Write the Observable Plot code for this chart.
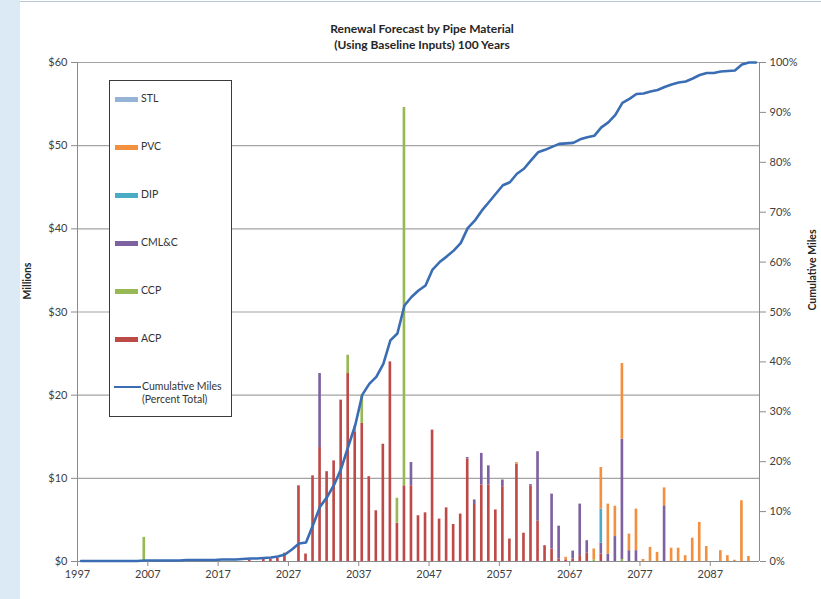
<!DOCTYPE html>
<html>
<head>
<meta charset="utf-8">
<script src="https://cdn.jsdelivr.net/npm/d3@7"></script>
<script src="https://cdn.jsdelivr.net/npm/@observablehq/plot@0.6"></script>
<style>
  html, body { margin: 0; padding: 0; background: #fff; }
  #wrap { position: relative; width: 821px; height: 599px; overflow: hidden; background: #fff; font-family: Lato, "Open Sans", sans-serif; color: #333; }
  #strip { position: absolute; left: 0; top: 0; width: 20px; height: 599px; background: #dceaf6; }
  #topline { position: absolute; left: 20px; top: 1px; right: 0; height: 1px; background: #b7c7d8; }
  #chart { position: absolute; left: 0; top: 0; }
  #title { position: absolute; left: 222px; width: 400px; top: 21px; text-align: center; font-weight: bold; font-size: 12px; line-height: 16px; color: #262626; }
  .ytitle { position: absolute; font-weight: bold; font-size: 10.5px; color: #262626; white-space: nowrap; transform: translate(-50%, -50%) rotate(-90deg); }
  #legend { position: absolute; left: 109px; top: 80px; width: 121px; height: 335px; border: 1.5px solid #3a3a3a; background: #fff; }
  .item { position: absolute; left: 5px; font-size: 10.5px; line-height: 13px; color: #333; white-space: nowrap; }
  .sw { display: inline-block; width: 23px; height: 5px; vertical-align: middle; margin-right: 3px; }
</style>
</head>
<body>
<div id="wrap">
  <div id="strip"></div>
  <div id="topline"></div>
  <div id="chart"></div>
  <div id="title">Renewal Forecast by Pipe Material<br>(Using Baseline Inputs) 100 Years</div>
  <div class="ytitle" style="left:27px; top:281px;">Millions</div>
  <div class="ytitle" style="left:812px; top:270px;">Cumulative Miles</div>
  <div id="legend"></div>
</div>
<script>
// ---- Data ----
const materials = ["ACP", "CCP", "CML&C", "DIP", "PVC", "STL"];          // stack order, bottom to top
const materialColors = ["#bd4a47", "#97b955", "#7d61a0", "#4aabc5", "#f2903f", "#95b3d7"];
const legendOrder = ["STL", "PVC", "DIP", "CML&C", "CCP", "ACP"];

// [year, $ millions]
const ACP = [[2021,0.2],[2023,0.25],[2024,0.3],[2025,0.4],[2026,1.0],[2028,9.1],[2029,0.9],[2030,10.3],[2031,13.7],[2032,10.8],[2033,12.1],[2034,19.4],[2035,22.6],[2036,15.6],[2037,16.6],[2038,10.2],[2039,6.1],[2040,14.1],[2041,24.0],[2042,4.6],[2043,9.1],[2044,9.1],[2045,5.5],[2046,5.85],[2047,15.8],[2048,5.1],[2049,6.45],[2050,4.45],[2051,5.7],[2052,12.3],[2053,6.85],[2054,9.2],[2055,9.2],[2056,6.2],[2057,9.0],[2058,2.7],[2059,11.7],[2060,3.4],[2061,9.05],[2062,4.85],[2063,1.9],[2064,1.5],[2065,0.3],[2066,0.2],[2067,0.3],[2068,0.7],[2069,1.0],[2071,0.9]];
const CCP = [[2006,2.9],[2035,2.2],[2036,0.7],[2037,3.4],[2042,3.0],[2043,45.5],[2070,0.2],[2074,0.25]];
const CMLC = [[2031,8.9],[2044,2.8],[2052,0.2],[2053,0.55],[2054,3.8],[2055,2.3],[2057,0.8],[2061,0.2],[2062,8.35],[2064,6.6],[2065,3.95],[2067,0.95],[2068,6.2],[2069,1.5],[2071,1.3],[2072,0.9],[2073,3.0],[2074,14.45],[2075,1.3],[2076,1.3],[2080,6.7]];
const DIP = [[2071,4.1]];
const PVC = [[2059,0.2],[2066,0.3],[2070,1.3],[2071,5.0],[2072,6.0],[2073,3.65],[2074,9.1],[2075,2.0],[2076,5.0],[2077,0.25],[2078,1.7],[2079,1.1],[2080,2.15],[2081,1.6],[2082,1.6],[2083,0.7],[2084,2.8],[2085,4.7],[2086,1.8],[2088,1.3],[2089,0.7],[2090,0.15],[2091,7.3],[2092,0.6]];
const STL = [];

// Cumulative miles, percent of total, one value per year from 1997 to 2093
const cumStartYear = 1997;
const cumPct = [
  0.1,0.1,0.1,0.1,0.1,0.1,0.1,0.1,0.1,          // 1997-2005
  0.2,0.2,0.2,0.2,0.2,0.2,                      // 2006-2011
  0.3,0.3,0.3,0.3,0.3,                          // 2012-2016
  0.4,0.4,0.4,                                  // 2017-2019
  0.5,0.6,0.6,0.7,0.8,1.0,1.4,2.4,3.6,3.8,      // 2020-2029
  7.3,11.0,12.9,15.4,18.6,23.0,27.3,33.4,35.6,37.0,   // 2030-2039
  39.6,44.3,45.7,51.3,53.0,54.3,55.3,58.5,60.0,61.1,  // 2040-2049
  62.3,63.8,66.8,68.3,70.3,72.0,73.7,75.4,76.0,77.7,  // 2050-2059
  78.7,80.4,82.0,82.5,83.1,83.7,83.8,83.9,84.6,85.0,  // 2060-2069
  85.3,87.0,88.0,89.5,91.9,92.7,93.7,93.8,94.2,94.5,  // 2070-2079
  95.1,95.6,96.0,96.2,96.8,97.5,97.9,97.9,98.2,98.3,  // 2080-2089
  98.4,99.6,100,100                                    // 2090-2093
];

const xTicks = [1997, 2007, 2017, 2027, 2037, 2047, 2057, 2067, 2077, 2087];
const yTicks = [0, 10, 20, 30, 40, 50, 60];
const pctTicks = [0, 10, 20, 30, 40, 50, 60, 70, 80, 90, 100];

// ---- Build tables ----
const seriesByName = {"ACP": ACP, "CCP": CCP, "CML&C": CMLC, "DIP": DIP, "PVC": PVC, "STL": STL};
const rows = [];
for (const m of materials) for (const [year, value] of seriesByName[m]) rows.push({year, material: m, value});
const cum = cumPct.map((p, i) => ({year: cumStartYear + i, pct: p}));

const yMax = 60;
const pctToY = p => p / 100 * yMax;

const chart = Plot.plot({
  width: 821,
  height: 599,
  marginLeft: 77,
  marginRight: 62,
  marginTop: 62,
  marginBottom: 38,
  style: {fontFamily: "Lato, 'Open Sans', sans-serif", fontSize: "11px", background: "transparent", color: "#404040"},
  x: {domain: [1997, 2094], axis: null, label: null},
  y: {domain: [0, yMax], axis: null, label: null},
  color: {domain: materials, range: materialColors},
  marks: [
    Plot.ruleY(yTicks.filter(d => d > 0), {stroke: "#a3a3a3", strokeWidth: 1.2}),
    Plot.rectY(rows, {x: "year", interval: 1, y: "value", fill: "material", order: materials, insetLeft: 2.2, insetRight: 2.2}),
    Plot.ruleX([1997], {stroke: "#8c8c8c", strokeWidth: 1}),
    Plot.ruleX([2094], {stroke: "#8c8c8c", strokeWidth: 1}),
    Plot.ruleY([0], {stroke: "#8c8c8c", strokeWidth: 1}),
    Plot.line(cum, {x: d => d.year + 0.5, y: d => pctToY(d.pct), stroke: "#3a6db3", strokeWidth: 2.6, strokeLinejoin: "round"}),
    Plot.axisY(yTicks, {anchor: "left", label: null, tickSize: 6, tickPadding: 4, tickFormat: d => "$" + d, stroke: "#8c8c8c", fill: "#404040", fontSize: 11}),
    Plot.axisY(pctTicks.map(pctToY), {anchor: "right", label: null, tickSize: 6, tickPadding: 4, tickFormat: d => Math.round(d / yMax * 100) + "%", stroke: "#8c8c8c", fill: "#404040", fontSize: 11}),
    Plot.axisX(xTicks, {anchor: "bottom", label: null, tickSize: 5, tickPadding: 4, tickFormat: d => String(d), stroke: "#8c8c8c", fill: "#404040", fontSize: 11})
  ]
});
document.getElementById("chart").appendChild(chart);

// ---- Legend ----
const legend = document.getElementById("legend");
const colorOf = m => materialColors[materials.indexOf(m)];
const legendTop = [11, 59, 107, 155, 203, 251];
legendOrder.forEach((m, i) => {
  const el = document.createElement("div");
  el.className = "item";
  el.style.top = legendTop[i] + "px";
  el.innerHTML = `<span class="sw" style="background:${colorOf(m)}"></span>${m}`;
  legend.appendChild(el);
});
const li = document.createElement("div");
li.className = "item";
li.style.left = "4px";
li.style.top = "299px";
li.innerHTML = `<span style="display:inline-block;width:27px;height:2px;background:#3a6db3;vertical-align:middle;margin-right:1px;"></span>Cumulative Miles<br><span style="padding-left:28px">(Percent Total)</span>`;
legend.appendChild(li);
</script>
</body>
</html>
